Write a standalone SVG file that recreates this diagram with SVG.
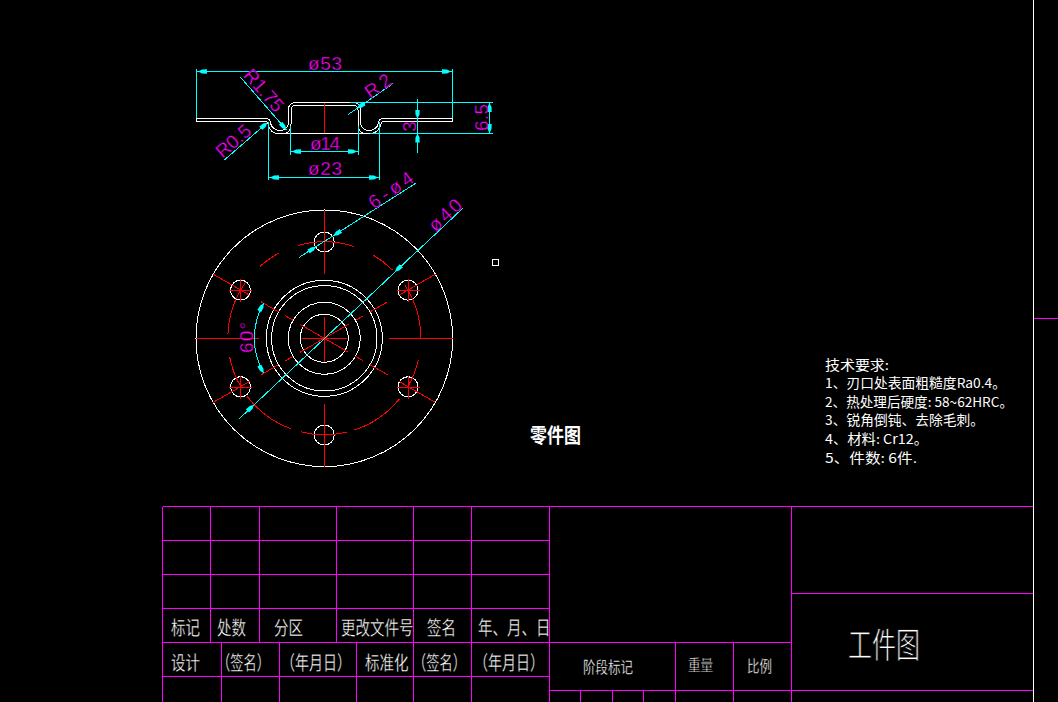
<svg xmlns="http://www.w3.org/2000/svg" width="1058" height="702" viewBox="0 0 1058 702">
<style>
.w{fill:none;stroke:#fff;stroke-width:1;shape-rendering:crispEdges}
.r{fill:none;stroke:#f00;stroke-width:1;shape-rendering:crispEdges}
.c{fill:none;stroke:#0ff;stroke-width:1;shape-rendering:crispEdges}
.m{fill:none;stroke:#f0f;stroke-width:1;shape-rendering:crispEdges}
.a{marker-end:url(#arr)}
.aa{marker-start:url(#arr);marker-end:url(#arr)}
.d{font-family:"Liberation Sans",sans-serif;font-size:19px;fill:#f0f;text-anchor:middle;stroke:#000;stroke-width:.35px}
.t{font-family:"Noto Sans CJK SC",sans-serif;font-size:14.5px;fill:#fff;stroke:#000;stroke-width:.25px}
.s{font-size:12.5px}
.n{font-family:"Noto Sans CJK SC",sans-serif;font-size:13.5px;fill:#fff}
</style>
<defs>
<marker id="arr" viewBox="0 0 9 6" refX="9" refY="3" markerWidth="9" markerHeight="6" markerUnits="userSpaceOnUse" orient="auto-start-reverse">
<polygon points="9,3 5,1 0,0.8 0,5.2 5,5" fill="#0ff"/>
</marker>
</defs>
<rect width="1058" height="702" fill="#000"/>

<g id="frame">
<path class="w" d="M1033.5 0V702"/>
<path class="m" d="M1034 318.5H1058"/>
</g>

<g id="section-view">
<path class="w" d="M196.5 118.5H266Q270 118.5 270.5 122.5C271 128 276 130.5 280 130.5C285 130.5 288.5 127 288.5 122V110Q288.5 102.5 296 102.5H353Q360.5 102.5 360.5 110V122C360.5 127 364 130.5 369 130.5C373 130.5 378 128 378.5 122.5Q379 118.5 383 118.5H452.5V121.5H384Q381.5 121.5 381 124C379.5 130 376 133.5 370 133.5H278C273 133.5 269.5 130 268 124Q267.5 121.5 265 121.5H196.5Z"/>
<path class="w" d="M283 133.5C288 133.5 291 130 291 124V110Q291 105 296 105H353Q358 105 358 110V124C358 130 361 133.5 366 133.5"/>
<path class="r" d="M324.5 103V133"/>
</g>

<g id="plan-view">
<circle class="w" cx="324.3" cy="338.3" r="128.3"/>
<circle class="w" cx="324.3" cy="338.3" r="58"/>
<circle class="w" cx="324.3" cy="338.3" r="52.7"/>
<circle class="w" cx="324.3" cy="338.3" r="36"/>
<circle class="w" cx="324.3" cy="338.3" r="24"/>
<circle class="w" cx="324.3" cy="242" r="10"/>
<circle class="w" cx="324.3" cy="435" r="10"/>
<circle class="w" cx="240.5" cy="290.2" r="10"/>
<circle class="w" cx="408" cy="290.2" r="10"/>
<circle class="w" cx="240.5" cy="386.8" r="10"/>
<circle class="w" cx="408" cy="386.8" r="10"/>
<rect class="w" x="492.5" y="259.5" width="6" height="6"/>
<path class="r" d="M196 338.5H259M389 338.5H452.7M324.5 210.7V274M324.5 404V467.3M301.7 338.5H347.3M324.5 317.3V361.7"/>
<path class="r" d="M300 324.3L348.6 352.3M300 352.3L348.6 324.3"/>
<path class="r" d="M285.3 315.8L293.1 320.3M355.5 320.3L363.3 315.8M285.3 360.8L293.1 356.3M355.5 356.3L363.3 360.8"/>
<path class="r" d="M261.1 301.8L278.4 311.8M370.2 311.8L387.5 301.8M261.1 374.8L278.4 364.8M370.2 364.8L387.5 374.8"/>
<path class="r" d="M213.2 274.2L249.8 295.3M398.8 295.3L435.4 274.2M213.2 402.4L249.8 381.3M398.8 381.3L435.4 402.4"/>
<path class="r" d="M229 290.5H252M240.5 279V302M396.5 290.5H419.5M408 279V302M229 387H252M240.5 375.5V398.5M396.5 387H419.5M408 375.5V398.5"/>
<path class="r" d="M297.7 245.5A96.5 96.5 0 0 1 354.1 246.5M259.7 266.6A96.5 96.5 0 0 1 279 253.1M372.6 254.7A96.5 96.5 0 0 1 392.5 270.1M405.2 285.7A96.5 96.5 0 0 1 420.8 338.3M418.3 360A96.5 96.5 0 0 1 407.9 386.6M399.3 399A96.5 96.5 0 0 1 354.1 430.1M291.3 429A96.5 96.5 0 0 1 247.2 396.4M240.7 386.6A96.5 96.5 0 0 1 229.6 356.7M227.9 334.3A96.5 96.5 0 0 1 246.2 281.5M347.6 431.9A96.5 96.5 0 0 1 301 431.9"/>
</g>

<g id="connectors">
<path class="c aa" d="M198 71.5H451"/>
<path class="c" d="M196.5 69V118M452.5 69V118M196.5 71.5H198M451 71.5H452.5"/>
<path class="c aa" d="M292 151.5H357"/>
<path class="c" d="M290.5 126V155M358.5 126V155M290.5 151.5H292M357 151.5H358.5"/>
<path class="c aa" d="M270 177.5H378"/>
<path class="c" d="M268.5 122V180M379.5 122V180M268.5 177.5H270M378 177.5H379.5"/>
<path class="c" d="M350 102.5H493M370 133.5H493"/>
<path class="c aa" d="M489.5 103V133"/>
<path class="c" d="M417.5 99V153"/>
<path class="c a" d="M417.5 105V118.5"/>
<path class="c a" d="M417.5 147V133.5"/>
<path class="c a" d="M240 76.7L286.5 130"/>
<path class="c a" d="M393.3 83.3L357 108.5"/>
<path class="c" d="M357 108.5L348.3 114.3"/>
<path class="c a" d="M224.3 160L267.5 122.5"/>
<path class="c" d="M299.3 257.3L415.7 183.3"/>
<path class="c a" d="M299.3 257.3L316 246.7"/>
<path class="c a" d="M350 225L333.5 235.7"/>
<path class="c" d="M239.3 418.7L462.7 208.3"/>
<path class="c a" d="M239.3 418.7L254 404.8"/>
<path class="c a" d="M410 257.5L395 271.8"/>
<path class="c aa" d="M263.7 303.3A70 70 0 0 0 263.7 373.3"/>
</g>

<g id="dimension-labels">
<text class="d" x="325" y="70" textLength="34">ø53</text>
<text class="d" x="325" y="150" textLength="30">ø14</text>
<text class="d" x="325" y="175" textLength="34">ø23</text>
<text class="d" transform="translate(259 94.5) rotate(49)" textLength="50">R1.75</text>
<text class="d" transform="translate(381.7 91.3) rotate(-35)" textLength="28">R2</text>
<text class="d" transform="translate(237.6 146) rotate(-41)" textLength="40">R0.5</text>
<text class="d" transform="translate(488 117.5) rotate(-90)" textLength="27">6.5</text>
<text class="d" transform="translate(416 126.5) rotate(-90)">3</text>
<text class="d" transform="translate(394.6 195.4) rotate(-35)" textLength="50">6-ø4</text>
<text class="d" transform="translate(449.5 219.7) rotate(-43)" textLength="38">ø40</text>
<text class="d" transform="translate(253 337.5) rotate(-90)" textLength="31">60°</text>
</g>

<g id="title-block">
<path class="m" d="M162.5 506.5H1033M162.5 540.5H550M162.5 574.5H550M162.5 608.5H550M162.5 642.5H791.5M162.5 676.5H550M550 690.5H1033M791.5 593.5H1033"/>
<path class="m" d="M162.5 506.5V702M210.5 506.5V642M259.5 506.5V642M336.5 506.5V642M413.5 506.5V702M471.5 506.5V702M549.5 506.5V702M791.5 506.5V702"/>
<path class="m" d="M221.5 642V702M279.5 642V702M356.5 642V702M675.5 642V702M733.5 642V702M580.5 690V702M612.5 690V702M643.5 690V702"/>
<text class="t" transform="translate(171 635) scale(1 1.35)">标记</text>
<text class="t" transform="translate(217 635) scale(1 1.35)">处数</text>
<text class="t" transform="translate(274 635) scale(1 1.35)">分区</text>
<text class="t" transform="translate(341 635) scale(1 1.35)">更改文件号</text>
<text class="t" transform="translate(427 635) scale(1 1.35)">签名</text>
<text class="t" transform="translate(478 635) scale(1 1.35)">年、月、日</text>
<text class="t" transform="translate(171 670) scale(1 1.35)">设计</text>
<text class="t" transform="translate(217 670) scale(1 1.35)" textLength="53" lengthAdjust="spacingAndGlyphs">（签名）</text>
<text class="t" transform="translate(281 670) scale(1 1.35)" textLength="70" lengthAdjust="spacingAndGlyphs">（年月日）</text>
<text class="t" transform="translate(365 670) scale(1 1.35)">标准化</text>
<text class="t" transform="translate(413 670) scale(1 1.35)" textLength="53" lengthAdjust="spacingAndGlyphs">（签名）</text>
<text class="t" transform="translate(474 670) scale(1 1.35)" textLength="70" lengthAdjust="spacingAndGlyphs">（年月日）</text>
<text class="t s" transform="translate(583 673) scale(1 1.3)">阶段标记</text>
<text class="t s" transform="translate(688 671) scale(1 1.3)">重量</text>
<text class="t s" transform="translate(747 672) scale(1 1.3)">比例</text>
<text class="t" x="848" y="658" style="font-size:24px;stroke-width:.6px" transform="translate(848 658) scale(1 1.45) translate(-848 -658)">工件图</text>
</g>

<g id="labels">
<text class="t" x="530" y="443" style="font-size:17px;font-weight:700;stroke:none" transform="translate(530 443) scale(1 1.2) translate(-530 -443)">零件图</text>
<text class="n" x="825" y="370" textLength="64" lengthAdjust="spacingAndGlyphs">技术要求:</text>
<text class="n" x="825" y="388" textLength="181" lengthAdjust="spacingAndGlyphs">1、刃口处表面粗糙度Ra0.4。</text>
<text class="n" x="825" y="407" textLength="188" lengthAdjust="spacingAndGlyphs">2、热处理后硬度: 58~62HRC。</text>
<text class="n" x="825" y="425" textLength="159" lengthAdjust="spacingAndGlyphs">3、锐角倒钝、去除毛刺。</text>
<text class="n" x="825" y="444" textLength="103" lengthAdjust="spacingAndGlyphs">4、材料: Cr12。</text>
<text class="n" x="825" y="463" textLength="92" lengthAdjust="spacingAndGlyphs">5、件数: 6件.</text>
</g>
</svg>
